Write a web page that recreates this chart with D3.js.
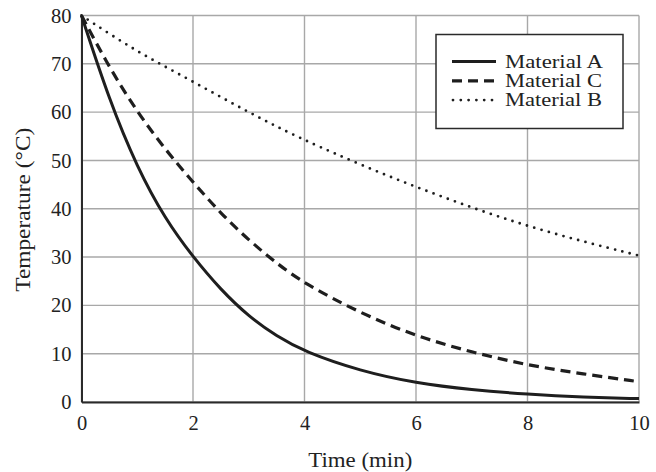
<!DOCTYPE html>
<html><head><meta charset="utf-8">
<script src="https://cdn.jsdelivr.net/npm/d3@7"></script>
<style>body{margin:0;background:#fff}svg{display:block}</style>
</head><body>
<script>
const times = [0, 0.5, 1, 1.5, 2, 2.5, 3, 3.5, 4, 5, 6, 7, 8, 9, 10];
const materialA = [80, 62.4, 48.5, 37.9, 30, 23.2, 17.7, 13.6, 10.4, 6.4, 3.9, 2.5, 1.6, 1.0, 0.7];
const materialC = [80, 69.2, 60, 52.3, 45.5, 39, 33.5, 28.7, 24.5, 18.4, 13.6, 10.3, 7.6, 5.8, 4.2];
const materialB = [80, 76.2, 72.6, 69.4, 66.3, 63.1, 60, 57.0, 54.2, 49.1, 44.5, 40.2, 36.4, 33.2, 30.3];
const seriesNames = ["Material A", "Material C", "Material B"];
const xTicks = [0, 2, 4, 6, 8, 10];
const yTicks = [0, 10, 20, 30, 40, 50, 60, 70, 80];

const W = 656, H = 472;
const m = {left: 81.5, right: 17, top: 15.5, bottom: 70};
const svg = d3.select("body").append("svg").attr("width", W).attr("height", H);
const font = "'Liberation Serif', 'Times New Roman', serif";

const x = d3.scaleLinear().domain([0, 10]).range([m.left, W - m.right]);
const y = d3.scaleLinear().domain([0, 80]).range([H - m.bottom, m.top]);

// grid
const grid = svg.append("g").attr("stroke", "#a8a8a8").attr("stroke-width", 1.4);
xTicks.forEach(t => grid.append("line").attr("x1", x(t)).attr("x2", x(t)).attr("y1", y(0)).attr("y2", y(80)));
yTicks.forEach(t => grid.append("line").attr("x1", x(0)).attr("x2", x(10)).attr("y1", y(t)).attr("y2", y(t)));

// axes
const xAxis = svg.append("g").attr("transform", `translate(0,${y(0)})`)
  .call(d3.axisBottom(x).tickValues(xTicks).tickSize(0).tickPadding(13).tickFormat(d3.format("d")));
const yAxis = svg.append("g").attr("transform", `translate(${x(0)},0)`)
  .call(d3.axisLeft(y).tickValues(yTicks).tickSize(0).tickPadding(10).tickFormat(d3.format("d")));
[xAxis, yAxis].forEach(a => {
  a.select(".domain").attr("stroke", "#2a2a2a").attr("stroke-width", 2);
  a.selectAll("text").attr("font-family", font).attr("font-size", 20.5).attr("fill", "#222");
});

// lines
const data = [materialA, materialC, materialB];
const styles = [
  {dash: null, w: 3, cap: "butt"},
  {dash: "10,6", w: 3.2, cap: "butt"},
  {dash: "0,7.6", w: 2.8, cap: "round"}
];
const line = d3.line().x((d, i) => x(times[i])).y(d => y(d)).curve(d3.curveBasis);
data.forEach((vals, k) => {
  svg.append("path").datum(vals).attr("d", line)
    .attr("fill", "none").attr("stroke", "#1e1e1e")
    .attr("stroke-width", styles[k].w)
    .attr("stroke-linecap", styles[k].cap)
    .attr("stroke-dasharray", styles[k].dash);
});

// legend
const lg = svg.append("g");
lg.append("rect").attr("x", 436).attr("y", 34.5).attr("width", 187).attr("height", 94)
  .attr("fill", "#fff").attr("stroke", "#2a2a2a").attr("stroke-width", 1.5);
const legLens = [98, 97, 97];
seriesNames.forEach((n, k) => {
  const yy = 61.5 + k * 19.3;
  lg.append("line").attr("x1", k === 2 ? 453 : 452).attr("x2", 496).attr("y1", yy).attr("y2", yy)
    .attr("stroke", "#1e1e1e").attr("stroke-width", styles[k].w)
    .attr("stroke-linecap", styles[k].cap)
    .attr("stroke-dasharray", k === 1 ? "10,6" : (k === 2 ? "0,7.8" : null));
  lg.append("text").attr("x", 505).attr("y", yy + 6).text(n)
    .attr("textLength", legLens[k]).attr("lengthAdjust", "spacingAndGlyphs")
    .attr("font-family", font).attr("font-size", 19.5).attr("fill", "#222");
});

// axis titles
svg.append("text").attr("x", x(5)).attr("y", 467).attr("text-anchor", "middle")
  .attr("textLength", 104).attr("lengthAdjust", "spacingAndGlyphs")
  .attr("font-family", font).attr("font-size", 20.5).attr("fill", "#222").text("Time (min)");
svg.append("text").attr("transform", `translate(30,${(y(0) + y(80)) / 2 + 1}) rotate(-90)`)
  .attr("text-anchor", "middle")
  .attr("textLength", 164).attr("lengthAdjust", "spacingAndGlyphs")
  .attr("font-family", font).attr("font-size", 20.5).attr("fill", "#222").text("Temperature (°C)");
</script>
</body></html>
